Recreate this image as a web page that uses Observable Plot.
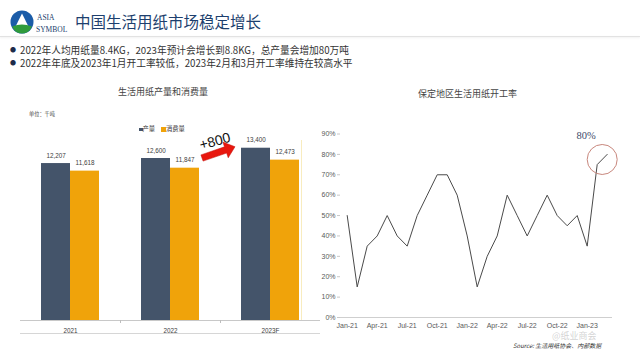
<!DOCTYPE html>
<html><head><meta charset="utf-8">
<script src="https://cdn.jsdelivr.net/npm/d3@7"></script>
<script src="https://cdn.jsdelivr.net/npm/@observablehq/plot@0.6"></script>
<style>
body{margin:0;background:#fff;}
#page{position:relative;width:640px;height:356px;overflow:hidden;background:#fff;font-family:"Noto Sans CJK SC","Noto Sans",sans-serif;}
.abs{position:absolute;white-space:nowrap;line-height:1;}
svg{overflow:visible;}
</style></head>
<body><div id="page">
<div id="barChart" class="abs" style="left:0;top:120px;"></div>
<div id="lineChart" class="abs" style="left:300px;top:120px;"></div>

<svg width="24" height="24" viewBox="0 0 24 24" style="position:absolute;left:10px;top:10px">
  <circle cx="12" cy="12" r="11.5" fill="#1b5ca8"/>
  <path d="M12 3.5 L4.8 18 L19.2 18 Z" fill="#fff"/>
  <path d="M2.2 16.5 Q12 12.5 21.8 16.5 Q19 23.5 12 23.5 Q5 23.5 2.2 16.5 Z" fill="#2f9b3c"/>
</svg>
<div class="abs" style="left:37px;top:12.5px;font:7.5px 'Liberation Serif',serif;color:#1a3d6d;">ASIA</div>
<div class="abs" style="left:36px;top:25px;font:7.5px 'Liberation Serif',serif;color:#1a3d6d;">SYMBOL</div>
<div class="abs" style="left:75px;top:14px;font-size:15.5px;color:#1d3f6e;">中国生活用纸市场稳定增长</div>
<div class="abs" style="left:0;top:36px;width:640px;height:1px;background:#e2e2e2;box-shadow:0 1px 2px rgba(0,0,0,0.08);"></div>
<div class="abs" style="left:10px;top:47px;font-size:6px;color:#1d2c4a;">●</div>
<div class="abs" style="left:20px;top:46px;font-size:9.7px;color:#333;">2022年人均用纸量8.4KG，2023年预计会增长到8.8KG，总产量会增加80万吨</div>
<div class="abs" style="left:10px;top:59.5px;font-size:6px;color:#1d2c4a;">●</div>
<div class="abs" style="left:20px;top:58.5px;font-size:9.7px;color:#333;">2022年年底及2023年1月开工率较低，2023年2月和3月开工率维持在较高水平</div>

<div class="abs" style="left:118px;top:86.5px;font-size:9px;color:#444;">生活用纸产量和消费量</div>
<div class="abs" style="left:29px;top:110.5px;font-size:5.2px;color:#444;">单位：千吨</div>
<div class="abs" style="left:139px;top:127.5px;width:3.5px;height:3.5px;background:#44546A;"></div>
<div class="abs" style="left:142.5px;top:126px;font-size:6.3px;color:#333;">产量</div>
<div class="abs" style="left:161px;top:127px;width:4.5px;height:4.5px;background:#F0A30A;"></div>
<div class="abs" style="left:166px;top:126px;font-size:6.3px;color:#333;">消费量</div>
<div class="abs" style="left:20px;top:333px;width:300px;height:1px;background:#d6d6d6;"></div>
<div class="abs" style="left:300.5px;top:140px;width:1px;height:180px;background:#f8ecbf;"></div>

<div class="abs" style="left:418px;top:88.5px;font-size:9px;color:#444;">保定地区生活用纸开工率</div>
<div class="abs" style="left:513px;top:343px;font-size:6px;font-style:italic;color:#333;">Source: 生活用纸协会、内部数据</div>
<div class="abs" style="left:552px;top:330.5px;font-size:9px;color:rgba(140,140,140,0.4);">@纸业商会</div>
</div>
<script>
// ---- bar chart data ----
const years = ["2021", "2022", "2023F"];
const seriesNames = ["产量", "消费量"];
const production = [12207, 12600, 13400];
const consumption = [11618, 11847, 12473];
const barColors = ["#44546A", "#F0A30A"];

// ---- line chart data ----
const months = ["Jan-21","Feb-21","Mar-21","Apr-21","May-21","Jun-21","Jul-21","Aug-21","Sep-21","Oct-21","Nov-21","Dec-21",
                "Jan-22","Feb-22","Mar-22","Apr-22","May-22","Jun-22","Jul-22","Aug-22","Sep-22","Oct-22","Nov-22","Dec-22",
                "Jan-23","Feb-23","Mar-23"];
const rates = [0.50,0.15,0.35,0.40,0.50,0.40,0.35,0.50,0.60,0.70,0.70,0.60,
               0.40,0.15,0.30,0.40,0.60,0.50,0.40,0.50,0.60,0.50,0.45,0.50,
               0.35,0.75,0.80];
const xTickIdx = [0,3,6,9,12,15,18,21,24];
const yTicks = [0,0.1,0.2,0.3,0.4,0.5,0.6,0.7,0.8,0.9];

const font = "'Liberation Sans','Noto Sans CJK SC',sans-serif";
const half = 0.29;
const barRows = years.flatMap((yr, i) => [
  {i, year: yr, series: seriesNames[0], value: production[i], x1: i - half, x2: i},
  {i, year: yr, series: seriesNames[1], value: consumption[i], x1: i, x2: i + half}
]);

// block arrow whose endpoints go through the plot's scales
function blockArrowRender(index, scales, values, dimensions, context, next) {
  const ax1 = scales.x(1 + half + 0.03), ay1 = scales.y(production[1]);
  const ax2 = scales.x(2 - half - 0.06), ay2 = scales.y(production[2]) - 1;
  const L = Math.hypot(ax2 - ax1, ay2 - ay1);
  const ux = (ax2 - ax1) / L, uy = (ay2 - ay1) / L;
  const nx = -uy, ny = ux;
  const sw = 3.3, hw = 8.3, hl = 10;
  const bx = ax2 - ux * hl, by = ay2 - uy * hl;
  const pts = [
    [ax1 + nx * sw, ay1 + ny * sw], [bx + nx * sw, by + ny * sw], [bx + nx * hw, by + ny * hw],
    [ax2, ay2],
    [bx - nx * hw, by - ny * hw], [bx - nx * sw, by - ny * sw], [ax1 - nx * sw, ay1 - ny * sw]
  ];
  const g = d3.create("svg:g");
  g.append("polygon").attr("points", pts.map(p => p.join(",")).join(" "))
    .attr("fill", "#e8170e").attr("stroke", "#c0100a").attr("stroke-width", 0.5);
  return g.node();
}

const bar = Plot.plot({
  width: 320, height: 225,
  marginTop: 20, marginBottom: 25, marginLeft: 20, marginRight: 0,
  x: {type: "linear", domain: [-0.5, 2.5], axis: null},
  y: {domain: [0, 14000], axis: null},
  color: {domain: seriesNames, range: barColors},
  style: {fontFamily: font, background: "transparent", overflow: "visible"},
  marks: [
    Plot.rect(barRows, {x1: "x1", x2: "x2", y1: 0, y2: "value", fill: "series"}),
    Plot.text(barRows, {x: d => (d.x1 + d.x2) / 2, y: "value", text: d => d3.format(",")(d.value),
      dy: -8, fontSize: 6.3, fill: "#404040"}),
    Plot.ruleY([0], {stroke: "#c8c8c8"}),
    Plot.axisX({ticks: [0.5, 1.5], tickFormat: () => "", tickSize: 3, stroke: "#bdbdbd", label: null}),
    Plot.axisX({ticks: [0, 1, 2], tickFormat: i => years[i], tickSize: 0, tickPadding: 8, fontSize: 6.3, fill: "#404040", label: null}),
    Plot.arrow([0], {x1: () => 1 + half + 0.03, x2: () => 2 - half - 0.06,
      y1: () => production[1], y2: () => production[2],
      stroke: "#e8170e", strokeWidth: 6, headAngle: 70, render: blockArrowRender}),
    Plot.text([0], {x: () => 1.445, y: () => (production[1] + production[2]) / 2,
      text: () => "+" + (production[2] - production[1]), rotate: -15, dy: -12,
      fontSize: 14, fill: "#111"})
  ]
});
document.getElementById("barChart").appendChild(bar);

const lineRows = months.map((m, i) => ({i, m, v: rates[i]}));
const n = lineRows.length;
const line = Plot.plot({
  width: 340, height: 225,
  marginTop: 13.5, marginBottom: 28, marginLeft: 40, marginRight: 28,
  x: {type: "linear", domain: [-0.67, 26.53], axis: null},
  y: {domain: [0, 0.9], axis: null},
  style: {fontFamily: font, background: "transparent", overflow: "visible"},
  marks: [
    Plot.ruleY([0], {stroke: "#cfcfcf"}),
    Plot.axisY({ticks: yTicks, tickFormat: d3.format(".0%"), tickSize: 3, tickPadding: 2,
      fontSize: 7, fill: "#595959", stroke: "#c8c8c8", label: null}),
    Plot.axisX({ticks: xTickIdx, tickFormat: i => months[i], tickSize: 0, tickPadding: 6,
      fontSize: 7, fill: "#595959", label: null}),
    Plot.lineY(lineRows, {x: "i", y: "v", stroke: "#4a4a4a", strokeWidth: 1}),
    Plot.dot([0], {x: () => (lineRows[n - 2].i + lineRows[n - 1].i) / 2,
      y: () => (lineRows[n - 2].v + lineRows[n - 1].v) / 2,
      r: 15, stroke: "#c8877d", fill: "none", strokeWidth: 1}),
    Plot.text([lineRows[n - 1]], {x: "i", y: "v", text: d => d3.format(".0%")(d.v),
      dx: -21, dy: -18.5, fontSize: 10.5, fontFamily: "'Liberation Serif',serif", fill: "#3c4a6a"})
  ]
});
document.getElementById("lineChart").appendChild(line);
</script>
</body></html>
